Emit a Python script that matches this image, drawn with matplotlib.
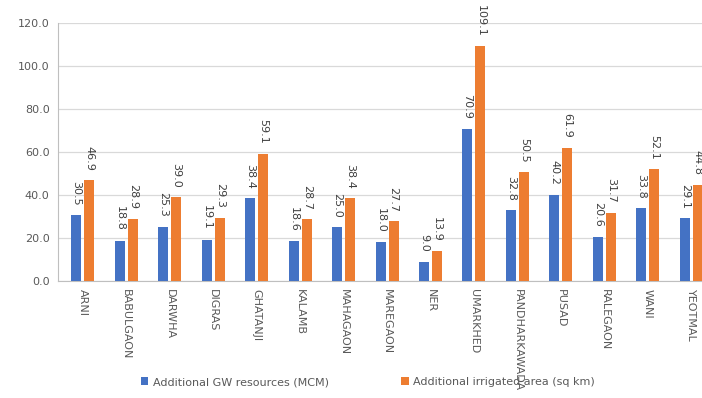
import matplotlib
matplotlib.use("Agg")
from matplotlib import pyplot as plt
import numpy as np

# tehsils and the two series
blocks = ["ARNI", "BABULGAON", "DARWHA", "DIGRAS", "GHATANJI", "KALAMB", "MAHAGAON",
          "MAREGAON", "NER", "UMARKHED", "PANDHARKAWADA", "PUSAD", "RALEGAON", "WANI", "YEOTMAL"]
gw_resources = [30.5, 18.8, 25.3, 19.1, 38.4, 18.6, 25.0, 18.0, 9.0, 70.9, 32.8, 40.2, 20.6, 33.8, 29.1]
irrigated_area = [46.9, 28.9, 39.0, 29.3, 59.1, 28.7, 38.4, 27.7, 13.9, 109.1, 50.5, 61.9, 31.7, 52.1, 44.8]
yticks = [0, 20, 40, 60, 80, 100, 120]

blue = "#4472C4"
orange = "#ED7D31"

fig = plt.figure(figsize=(7.02, 3.98), dpi=100)
ax = fig.add_axes([58 / 702, 117 / 398, 652 / 702, 258 / 398])

x = np.arange(len(blocks))
w = 0.23
off = 0.15
b1 = ax.bar(x - off, gw_resources, w, color=blue, label="Additional GW resources (MCM)", zorder=3)
b2 = ax.bar(x + off, irrigated_area, w, color=orange, label="Additional irrigated area (sq km)", zorder=3)

# data labels, rotated like the original, sitting a little above each bar
for bars in (b1, b2):
    for bar in bars:
        h = bar.get_height()
        ax.annotate("%.1f" % h, (bar.get_x() + bar.get_width() / 2, h),
                    xytext=(0, 7), textcoords="offset points",
                    rotation=-90, ha="center", va="bottom",
                    fontsize=8, color="#404040")

ax.set_xlim(-0.57, len(blocks) - 0.57)
ax.set_ylim(0, 120)
ax.set_yticks(yticks)
ax.set_yticklabels(["%.1f" % v for v in yticks], fontsize=8, color="#595959")
ax.set_xticks(x)
ax.set_xticklabels(blocks, rotation=-90, fontsize=8, color="#595959", va="top")
ax.tick_params(axis="x", length=0, pad=6)
ax.tick_params(axis="y", length=0, pad=6)
ax.grid(axis="y", color="#d9d9d9", linewidth=0.9, zorder=0)

for s in ("top", "right"):
    ax.spines[s].set_visible(False)
ax.spines["left"].set_color("#bfbfbf")
ax.spines["bottom"].set_color("#bfbfbf")

fig.legend(handles=[b1, b2], loc="center", bbox_to_anchor=(0.524, 0.04), ncol=2,
           frameon=False, fontsize=8, handlelength=0.7, handleheight=0.7,
           handletextpad=0.4, columnspacing=6.5, labelcolor="#595959")

fig.savefig("out.png", dpi=100)
